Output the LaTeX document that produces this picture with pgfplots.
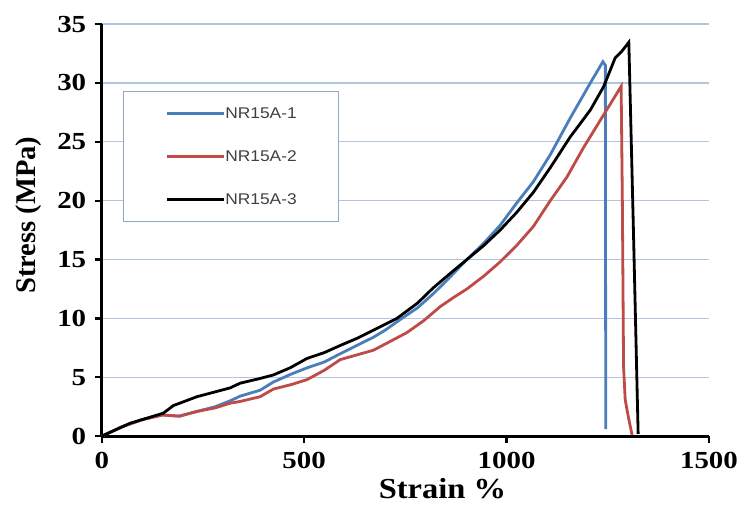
\documentclass[border=0pt]{standalone}
\usepackage{fontspec}
\setmainfont{Liberation Serif}
\newfontfamily\tickfont[FakeStretch=1.18]{Liberation Serif}
\newfontfamily\xlabfont[FakeStretch=1.12]{Liberation Serif}
\newfontfamily\legfont[FakeStretch=1.12]{Liberation Sans}
\usepackage{pgfplots}
\pgfplotsset{compat=1.18}
\usetikzlibrary{calc}
\definecolor{bluec}{HTML}{4A7EBB}
\definecolor{redc}{HTML}{BE4B48}
\definecolor{gridc}{HTML}{B3C5DE}
\definecolor{legc}{HTML}{8FA8C8}
\definecolor{legtxt}{HTML}{404040}

\begin{document}
\begin{tikzpicture}
\begin{axis}[
  scale only axis,
  width=607pt, height=412pt,
  xmin=0, xmax=1500, ymin=0, ymax=35,
  xtick={0,500,1000,1500},
  ytick={0,5,...,35},
  axis lines*=left,
  axis line style={line width=3pt,-},
  tick align=outside,
  major tick length=7pt,
  tick style={line width=2.2pt,black},
  ymajorgrids,
  major grid style={draw=gridc,line width=1.3pt},
  /pgf/number format/assume math mode=true,
  /pgf/number format/1000 sep={},
  ticklabel style={font=\tickfont\bfseries\fontsize{24.5}{27}\selectfont},
  xticklabel style={yshift=-5pt},
  yticklabel style={xshift=-5pt},
  xlabel={\xlabfont\bfseries\fontsize{29}{32}\selectfont Strain \%},
  ylabel={\bfseries\fontsize{28.5}{32}\selectfont Stress (MPa)},
  xlabel style={at={(axis description cs:0.561,-0.152)},anchor=base},
  ylabel style={at={(axis description cs:-0.1198,0.536)},anchor=center},
  legend style={at={(axis description cs:0.035,0.837)},anchor=north west,
    draw=legc,line width=0.9pt,inner xsep=42pt,inner ysep=12pt,
    font=\legfont\fontsize{15.5}{18}\selectfont\color{legtxt},
    row sep=23pt,
    nodes={inner sep=0pt,minimum height=20pt,anchor=west}},
  legend cell align=left,
  legend image code/.code={\draw[#1,line width=2.8pt] (0pt,0pt) -- (57pt,0pt);},
  /tikz/every even column/.append style={column sep=3pt},
]
\addplot[bluec,line width=2.8pt] coordinates {
(0,0) (50,0.8) (100,1.4) (150,1.8) (190,1.7) (235,2.1) (280,2.5) (317,3.0)
(342,3.4) (391,3.9) (424,4.6) (470,5.3) (507,5.8) (550,6.3) (589,7.0)
(630,7.7) (671,8.4) (700,9.0) (737,9.9) (780,10.9) (819,12.1) (860,13.5)
(902,15.0) (944,16.4) (984,17.9) (1025,19.8) (1066,21.6) (1108,23.9)
(1157,27.0) (1207,30.0) (1238,31.8) (1244,31.5) (1245,0.6)};
\addlegendentry{NR15A-1}
\addplot[redc,line width=2.8pt] coordinates {
(0,0) (50,0.8) (100,1.4) (150,1.8) (193,1.7) (235,2.1) (280,2.4) (317,2.8)
(342,2.95) (391,3.35) (424,4.0) (470,4.4) (507,4.8) (550,5.6) (589,6.5)
(630,6.9) (671,7.3) (710,8.0) (754,8.8) (795,9.8) (836,11.0) (870,11.8)
(902,12.5) (944,13.6) (984,14.8) (1025,16.2) (1066,17.8) (1108,20.0)
(1149,22.0) (1190,24.5) (1240,27.3) (1283,29.7) (1286,20) (1289,5.9)
(1293,3.1) (1301,1.6) (1310,0.1)};
\addlegendentry{NR15A-2}
\addplot[black,line width=2.8pt] coordinates {
(0,0) (70,1.1) (152,1.95) (177,2.6) (235,3.35) (317,4.1) (342,4.5)
(391,4.9) (424,5.2) (465,5.8) (507,6.6) (550,7.1) (589,7.7) (630,8.3)
(671,9.0) (729,10.0) (780,11.3) (819,12.6) (860,13.8) (902,15.0)
(944,16.2) (984,17.5) (1025,19.0) (1066,20.7) (1108,22.8) (1157,25.4)
(1207,27.7) (1240,29.7) (1268,32.1) (1285,32.7) (1302,33.45) (1313,18)
(1325,0.2)};
\addlegendentry{NR15A-3}
\end{axis}
\pgfresetboundingbox
\path ($(current axis.south west)+(-101.7pt,-70pt)$) rectangle ($(current axis.north east)+(35pt,24pt)$);
\end{tikzpicture}
\end{document}
